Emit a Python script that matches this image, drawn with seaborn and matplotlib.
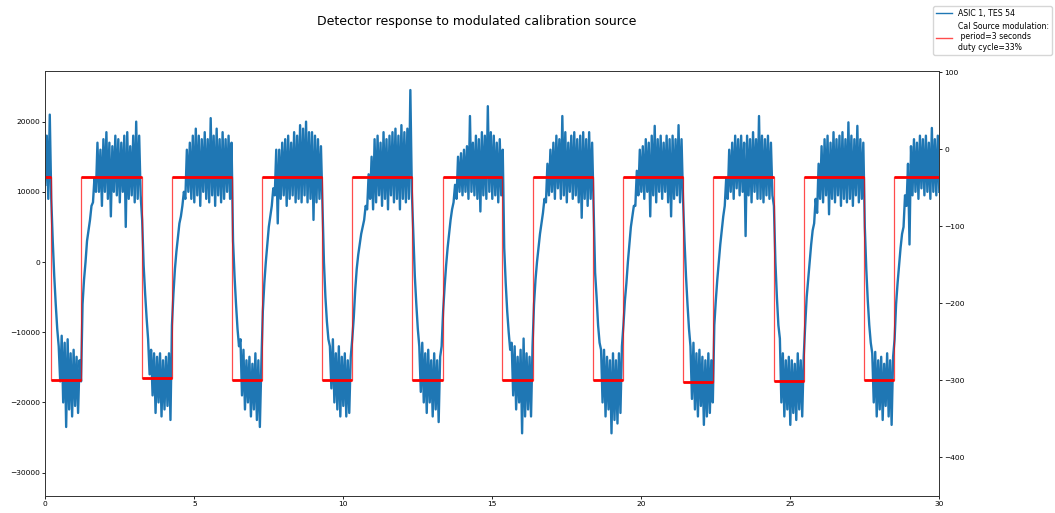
import numpy as np
import pandas as pd
import matplotlib
matplotlib.use("Agg")
import matplotlib.pyplot as plt
import seaborn as sns

# ---------------- data ----------------
# Detector signal (ASIC 1, TES 54) in thousands of ADU, one value every 0.05 s (one row per second)
sample_step_s = 0.05
signal_k = [
    11, 18, 9, 21, 9, 3, -2, -6, -9.5, -12, -17, -10.5, -20, -11.5, -23.5, -11, -21, -13, -22, -12.5,
    -20.5, -13.5, -21.5, -14, -17, -6, -2.5, 0, 3, 4.5, 6, 8, 8.5, 12, 10, 17, 10, 16, 8, 17.5,
    10, 18.5, 9, 17, 6.5, 16.5, 10, 18, 9.5, 17.5, 8.5, 17, 10, 18, 5, 18.5, 9, 16.5, 9.5, 18,
    8.5, 20, 9, 18, 9.5, 6, -0.5, -4.5, -8, -11, -16, -12.5, -19, -13, -21.5, -13.5, -20, -13, -22, -14,
    -21, -13.5, -20.5, -13, -22.5, -9, -4.5, -1, 1.5, 3.5, 5.5, 6.5, 8, 10, 9, 16, 10, 17, 9, 18,
    8.5, 19, 9.5, 18, 8, 17.5, 10, 18.5, 9, 17.5, 8.5, 20.5, 9.5, 18, 8, 19, 9.5, 17.5, 8.5, 18.5,
    9, 17.5, 10, 18, 9, 17, 3, -2, -6, -9.5, -12, -11, -19, -12.5, -21, -14, -20, -13.5, -22, -14.5,
    -21, -13, -22.5, -14, -23.5, -14.5, -7, -3, 0, 2.5, 5, 6.5, 8, 10.5, 9.5, 16, 5.5, 16, 9, 17,
    9.5, 17.5, 8, 18, 9, 17, 9.5, 18.5, 8.5, 18, 9, 19.5, 8.5, 19, 9.5, 20, 8.5, 18.5, 9, 18.5,
    6, 18, 8.5, 17.5, 9, 16.5, 8, 0, -5, -8.5, -11, -12, -18, -11, -20, -13, -21, -12, -22, -13.5,
    -20.5, -13, -22, -14, -21.5, -13.5, -11, -8, -4, -1, 1, 2.5, 4, 5, 6, 8, 7.5, 12.5, 9, 15,
    7.5, 17.5, 8.5, 18, 9.5, 17, 8, 18.5, 9, 17.5, 7.5, 18, 9.5, 18.5, 8.5, 19, 9, 18, 7.5, 19.5,
    9, 18.5, 8.5, 19, 9, 24.5, 10, 4, -2, -6, -9.5, -12, -18.5, -11.5, -20, -13, -21.5, -12.5, -20, -14,
    -22, -13, -21, -14, -22.8, -13.5, -12, -7, -3.5, -0.5, 2, 4, 6, 7.5, 8.5, 11, 9, 15, 10, 15.5,
    9.5, 16, 10, 16.5, 9, 20.8, 10, 17, 9.5, 18, 9, 17.5, 7.2, 18.5, 9.5, 18, 9, 22.2, 10, 18.5,
    9, 18, 9.5, 17, 8.5, 17.5, 9.5, 16, 2, -3, -7, -10, -12.5, -11.5, -19, -12, -21, -13.5, -20, -12.5,
    -24.4, -10.9, -22, -13, -21, -13.5, -22, -12, -6, -2.5, 0, 2, 4, 5.5, 7, 9, 8.5, 14, 9.5, 16,
    10, 17, 9, 18, 10.5, 17.5, 9, 20.8, 9.5, 18.5, 8.5, 17, 10, 18, 9, 18.5, 9.5, 17.5, 8.5, 18,
    6.3, 18.5, 9, 17.5, 8, 18.5, 9, 17, 8, -1.5, -5, -9, -11.5, -12.5, -20, -12.5, -22, -13.5, -21, -14,
    -24.4, -13, -22.5, -14, -23, -13, -21.5, -12, -9, -5.5, -3, 0, 2.5, 5, 6.5, 8, 8, 13, 9.5, 16,
    10, 16.5, 9, 17.5, 10, 17, 6.5, 18, 9.5, 19.4, 8.5, 17.5, 10, 18, 9, 17, 10, 18, 8.5, 17.5,
    6.5, 18, 9, 17.5, 9.5, 19.5, 8.5, 17.5, 9, 3, -2, -6, -9.5, -12, -19.5, -11.5, -21, -13, -22, -12.5,
    -20.5, -13.5, -23.2, -14, -22, -13, -21.5, -14, -20, -9, -5.5, -2.5, 0, 2.5, 4.5, 6.5, 8, 12, 9, 16,
    10, 17, 9, 18, 10.5, 17.5, 9.5, 18, 10, 17, 3.7, 18, 9.5, 17.5, 8.5, 18.5, 10, 17.5, 9, 20.8,
    9, 18, 8.5, 17.5, 9.5, 18, 9, 17, 9.5, 8, 0, -5, -9, -10.9, -20, -13, -22, -14, -21, -13.5,
    -23.2, -14, -21.5, -14.5, -22.5, -13, -21, -14, -22, -13.5, -9, -5, -2.5, 0, 2.5, 4.5, 5.5, 9, 7, 14,
    9, 16.5, 8.5, 17.5, 9.5, 18, 6.8, 17, 9, 18.5, 8.5, 17.5, 9.5, 18, 8, 18.5, 9, 17.5, 8.5, 19.9,
    9, 18, 8, 17.5, 9.5, 19.4, 8.5, 17.5, 9, 17, 5, -1, -5.5, -9, -11.5, -13, -20, -12.8, -22, -14,
    -21, -13.5, -22.5, -14.5, -20.5, -13, -22, -14, -23.2, -13.5, -11, -6, -3, -0.5, 2, 4, 5, 9.5, 8, 14,
    2.5, 16.5, 9.5, 17.5, 10, 17, 9, 18, 10.5, 17.5, 9.5, 18, 10, 17, 9, 19.1, 10, 17.5, 9.5, 18,
    10,
]

# Calibration source modulation (right axis)
source_fall_s = [0.20, 3.24, 6.26, 9.28, 12.31, 15.34, 18.38, 21.40, 24.44, 27.48]
source_rise_s = [1.21, 4.24, 7.27, 10.30, 13.33, 16.36, 19.39, 22.42, 25.45, 28.48]
source_on_level = -36
source_off_levels = [-299, -297, -300, -300, -300, -299, -300, -302, -301, -299]

title = "Detector response to modulated calibration source"
signal_label = "ASIC 1, TES 54"
source_label = "Cal Source modulation:\n period=3 seconds\nduty cycle=33%"

# ---------------- build tables ----------------
sig = pd.DataFrame({
    "t": np.arange(len(signal_k)) * sample_step_s,
    "adu": np.array(signal_k) * 1000.0,
})

sx, sy = [0.0], [source_on_level]
for f, r, lo in zip(source_fall_s, source_rise_s, source_off_levels):
    sx += [f, f, r, r]
    sy += [source_on_level, lo, lo, source_on_level]
sx.append(30.0)
sy.append(source_on_level)
src = pd.DataFrame({"t": sx, "level": sy})

# ---------------- figure ----------------
plt.rcParams.update({
    "font.family": ["DejaVu Sans"],
    "font.size": 5.4,
    "axes.linewidth": 0.6,
    "axes.edgecolor": "#333333",
    "xtick.major.size": 1.9, "ytick.major.size": 1.9,
    "xtick.major.width": 0.6, "ytick.major.width": 0.6,
    "xtick.major.pad": 1.9, "ytick.major.pad": 1.9,
    "xtick.labelsize": 5.4, "ytick.labelsize": 5.4,
})

fig = plt.figure(figsize=(10.55, 5.13), dpi=100)
ax = fig.add_axes([45.3 / 1055, 1 - 496 / 513, (939.3 - 45.3) / 1055, (496 - 71.3) / 513])

sns.lineplot(data=sig, x="t", y="adu", ax=ax, color="#1f77b4", linewidth=1.7,
             estimator=None, sort=False, label=signal_label, legend=False)
ax.set_xlim(0, 30)
ax.set_ylim(-33330, 27170)
ax.set_xticks([0, 5, 10, 15, 20, 25, 30])
ax.set_yticks([-30000, -20000, -10000, 0, 10000, 20000])
ax.set_xlabel("")
ax.set_ylabel("")

ax2 = ax.twinx()
sns.lineplot(data=src, x="t", y="level", ax=ax2, color="red", alpha=0.7, linewidth=0.9,
             estimator=None, sort=False, label=source_label, legend=False)
# emphasise the flat parts of the modulation (where the source signal is dense)
on_starts = [0.0] + source_rise_s
on_ends = source_fall_s + [30.0]
ax2.hlines([source_on_level] * len(on_starts), on_starts, on_ends, colors="red", linewidth=2.0)
ax2.hlines(source_off_levels, source_fall_s, source_rise_s, colors="red", linewidth=2.0)
ax2.set_ylim(-450, 101)
ax2.set_yticks([-400, -300, -200, -100, 0, 100])
ax2.set_ylabel("")
for a in (ax, ax2):
    for s in a.spines.values():
        s.set_linewidth(0.6)
        s.set_edgecolor("#333333")

fig.text(477 / 1055, 1 - 22 / 513, title, ha="center", va="center", fontsize=9)

h1 = ax.get_lines()[0]
h2 = ax2.get_lines()[0]
leg = fig.legend([h1, h2], [signal_label, source_label], loc="upper right",
                 bbox_to_anchor=(1052 / 1055, 1 - 6 / 513), borderaxespad=0,
                 fontsize=5.6, frameon=True, handlelength=2.0, labelspacing=0.5)
for ln in leg.get_lines():
    ln.set_linewidth(1.0)

fig.savefig("out.png", dpi=100)
